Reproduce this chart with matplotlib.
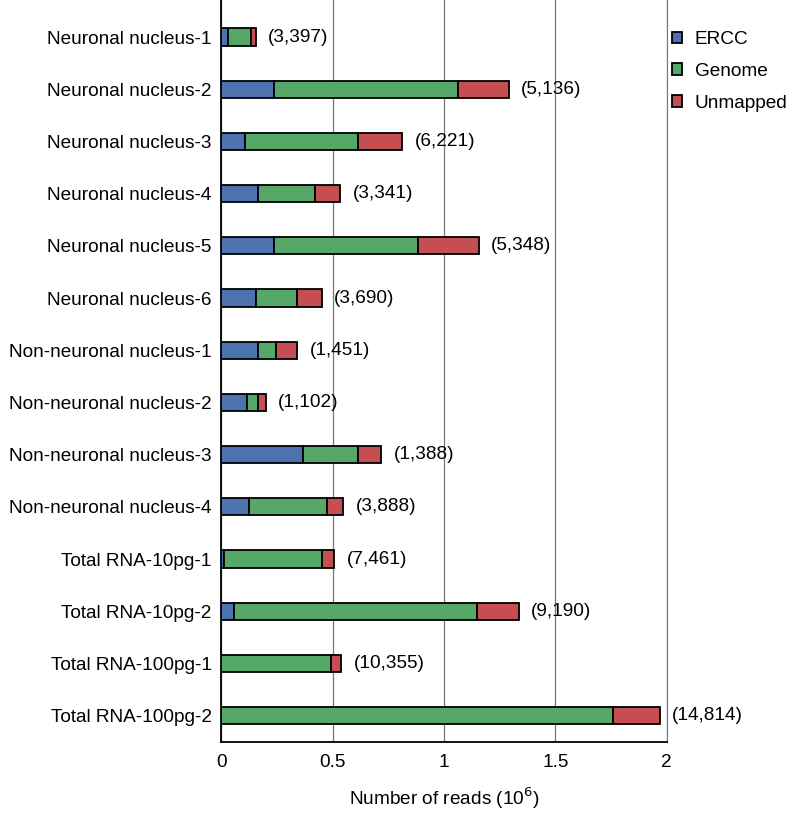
import matplotlib.pyplot as plt

plt.rcParams['font.family'] = ['Liberation Sans', 'DejaVu Sans']

# Samples (top to bottom) and read counts in millions
samples = ['Neuronal nucleus-1', 'Neuronal nucleus-2', 'Neuronal nucleus-3',
           'Neuronal nucleus-4', 'Neuronal nucleus-5', 'Neuronal nucleus-6',
           'Non-neuronal nucleus-1', 'Non-neuronal nucleus-2',
           'Non-neuronal nucleus-3', 'Non-neuronal nucleus-4',
           'Total RNA-10pg-1', 'Total RNA-10pg-2',
           'Total RNA-100pg-1', 'Total RNA-100pg-2']
ercc = [0.030, 0.237, 0.108, 0.165, 0.237, 0.154, 0.165, 0.117, 0.368,
        0.126, 0.013, 0.058, 0.0, 0.0]
genome = [0.102, 0.827, 0.506, 0.257, 0.645, 0.185, 0.082, 0.048, 0.247,
          0.350, 0.438, 1.089, 0.493, 1.757]
unmapped = [0.022, 0.226, 0.197, 0.112, 0.274, 0.112, 0.094, 0.034, 0.102,
            0.072, 0.056, 0.189, 0.044, 0.211]
genes = ['(3,397)', '(5,136)', '(6,221)', '(3,341)', '(5,348)', '(3,690)',
         '(1,451)', '(1,102)', '(1,388)', '(3,888)', '(7,461)', '(9,190)',
         '(10,355)', '(14,814)']

colors = ['#4C72B0', '#55A868', '#C44E52']
fs = 13.7

fig = plt.figure(figsize=(7.98, 8.18), dpi=100)
ax = fig.add_axes([0.2773, 0.0933, 0.8355 - 0.2773, 1 - 0.0933])

y = list(range(len(samples)))
h = 0.33
left2 = [a + b for a, b in zip(ercc, genome)]
ax.barh(y, ercc, height=h, color=colors[0], edgecolor='black', linewidth=1.3, label='ERCC', zorder=3)
ax.barh(y, genome, left=ercc, height=h, color=colors[1], edgecolor='black', linewidth=1.3, label='Genome', zorder=3)
ax.barh(y, unmapped, left=left2, height=h, color=colors[2], edgecolor='black', linewidth=1.3, label='Unmapped', zorder=3)

for yi, l2, u, g in zip(y, left2, unmapped, genes):
    ax.annotate(g, (l2 + u, yi), xytext=(9, 0), textcoords='offset points',
                va='center', ha='left', fontsize=fs)

ax.set_xlim(0, 2)
ax.set_ylim(13.5, -0.71)
ax.set_yticks(y)
ax.set_yticklabels(samples, fontsize=fs)
ax.set_xticks([0, 0.5, 1, 1.5, 2])
ax.set_xticklabels(['0', '0.5', '1', '1.5', '2'], fontsize=fs)
ax.tick_params(length=0, pad=7)
ax.tick_params(axis='x', pad=9)
ax.set_xlabel('Number of reads (10$^6$)', fontsize=fs, labelpad=10)

ax.grid(axis='x', color='#777777', linewidth=0.9, zorder=0)
ax.spines['top'].set_visible(False)
ax.spines['right'].set_color('#777777')
ax.spines['left'].set_linewidth(1.3)
ax.spines['bottom'].set_linewidth(1.3)

ax.legend(loc='upper left', bbox_to_anchor=(672 / 798, 1 - 31 / 818),
          bbox_transform=fig.transFigure, frameon=False, fontsize=fs,
          handlelength=0.55, handleheight=0.55, handletextpad=0.65,
          labelspacing=0.78, borderpad=0, borderaxespad=0)

plt.savefig('out.png', dpi=100)
